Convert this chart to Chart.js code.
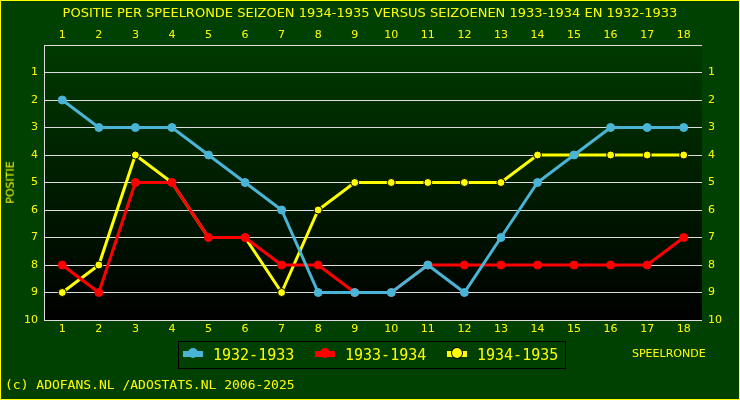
<!DOCTYPE html>
<html><head><meta charset="utf-8">
<script src="https://cdn.jsdelivr.net/npm/chart.js@4"></script>
<style>
html,body{margin:0;padding:0;background:#004000;}
#wrap{position:relative;width:740px;height:400px;box-sizing:border-box;border:1px solid #ffff00;overflow:hidden;}
canvas{position:absolute;left:0;top:0;}
.t{position:absolute;color:#ffff00;font-family:"DejaVu Sans";white-space:nowrap;}
#legend{position:absolute;left:177px;top:340px;width:386px;height:26px;border:1px solid #000;font-family:"DejaVu Sans Mono";font-size:15px;color:#ffff00;}
.li{position:absolute;top:4px;}
.sw{display:inline-block;width:20px;height:6px;position:relative;top:-3px;margin-right:10px;}
.sw i{position:absolute;left:5px;top:-3px;width:10px;height:10px;border-radius:50%;}
</style></head><body>
<div id="wrap">
<canvas id="c" width="738" height="398"></canvas>
<div class="t" style="left:0;width:738px;text-align:center;top:4px;font-size:13px;">POSITIE PER SPEELRONDE SEIZOEN 1934-1935 VERSUS SEIZOENEN 1933-1934 EN 1932-1933</div>
<div class="t" style="left:-12px;top:175px;font-size:11px;transform:rotate(-90deg);">POSITIE</div>
<div class="t" style="left:631px;top:346px;font-size:11px;">SPEELRONDE</div>
<div class="t" style="left:4px;top:376px;font-size:13px;font-family:'DejaVu Sans Mono';">(c) ADOFANS.NL /ADOSTATS.NL 2006-2025</div>
<div id="legend"></div>
</div>
<script>
const rounds=['1','2','3','4','5','6','7','8','9','10','11','12','13','14','15','16','17','18'];
const s1932=[2,3,3,3,4,5,6,9,9,9,8,9,7,5,4,3,3,3];
const s1933=[8,9,5,5,7,7,8,8,9,9,8,8,8,8,8,8,8,7];
const s1934=[9,8,4,5,7,7,9,6,5,5,5,5,5,4,4,4,4,4];
const names=['1932-1933','1933-1934','1934-1935'];
const colors=['#4ab4d6','#ff0000','#ffff00'];
const series=[s1932,s1933,s1934];
const lg=document.getElementById('legend');
names.forEach((n,i)=>{const d=document.createElement('div');d.className='li';d.style.left=(4+i*132)+'px';
d.innerHTML='<span class="sw" style="background:'+colors[i]+'"><i style="background:'+colors[i]+(i==2?';box-shadow:0 0 0 1px #000':'')+'"></i></span>'+n;lg.appendChild(d);});
const bg={id:'bg',beforeDraw(ch){const a=ch.chartArea,c=ch.ctx;const g=c.createLinearGradient(0,a.top,0,a.bottom);g.addColorStop(0,'#003a00');g.addColorStop(1,'#000000');c.save();c.fillStyle=g;c.fillRect(a.left,a.top,a.right-a.left,a.bottom-a.top);c.strokeStyle='#ddd';c.lineWidth=1;c.beginPath();c.moveTo(a.left+0.5,a.bottom);c.lineTo(a.left+0.5,a.top+0.5);c.lineTo(a.right,a.top+0.5);c.stroke();c.restore();}};
const tk={color:'#ffff00',font:{family:'DejaVu Sans',size:11}};
new Chart(document.getElementById('c'),{type:'line',
data:{labels:rounds,datasets:series.map((d,i)=>({label:names[i],data:d,borderColor:colors[i],backgroundColor:colors[i],borderWidth:3,pointRadius:4,pointBorderWidth:1,pointBorderColor:i==2?'#000':colors[i],tension:0}))},
options:{responsive:false,animation:false,layout:{padding:0},
plugins:{legend:{display:false},tooltip:{enabled:false}},
scales:{
x:{position:'bottom',offset:true,grid:{display:false,drawTicks:false},border:{display:false},ticks:{...tk,padding:3},afterFit(s){s.height=79;}},
x2:{position:'top',type:'category',labels:rounds,offset:true,grid:{display:false,drawTicks:false},border:{display:false},ticks:{...tk,padding:3},afterFit(s){s.height=44;}},
y:{position:'left',reverse:true,min:0,max:10,grid:{color:'#dddddd',drawTicks:false},border:{display:false},ticks:{...tk,stepSize:1,padding:6,callback:v=>v===0?'':v},afterFit(s){s.width=43;}},
y2:{position:'right',reverse:true,min:0,max:10,grid:{display:false,drawTicks:false},border:{display:false},ticks:{...tk,stepSize:1,padding:6,callback:v=>v===0?'':v},afterFit(s){s.width=37;}}
}},plugins:[bg]});
</script>
</body></html>
